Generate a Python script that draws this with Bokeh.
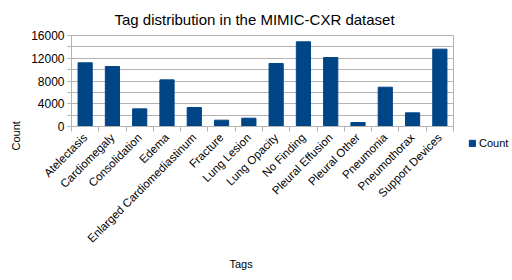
from bokeh.plotting import figure
from bokeh.models import (Range1d, FixedTicker, SingleIntervalTicker, Legend, LegendItem,
                          Title, ColumnDataSource)
from bokeh.embed import file_html
from bokeh.resources import INLINE
import math

tags = ["Atelectasis", "Cardiomegaly", "Consolidation", "Edema",
        "Enlarged Cardiomediastinum", "Fracture", "Lung Lesion", "Lung Opacity",
        "No Finding", "Pleural Effusion", "Pleural Other", "Pneumonia",
        "Pneumothorax", "Support Devices"]
counts = [11200, 10550, 3100, 8200, 3340, 1110, 1460, 11080,
          14890, 12130, 700, 6910, 2400, 13600]
y_ticks = [0, 4000, 8000, 12000, 16000]

FONT = "Liberation Sans"
GRAY = "#b3b3b3"
BAR = "#004586"

n = len(tags)
centers = [i + 0.5 for i in range(n)]
bounds = [float(i) for i in range(n + 1)]

p = figure(frame_width=382, frame_height=91, output_backend="svg", toolbar_location=None,
           x_range=Range1d(0, n), y_range=Range1d(y_ticks[0], y_ticks[-1]),
           min_border_left=70, min_border_right=60, min_border_top=35,
           min_border_bottom=154, title=None)
p.background_fill_color = "white"
p.border_fill_color = "white"
p.outline_line_color = GRAY

src = ColumnDataSource(dict(x=centers, top=counts, tag=tags))
bars = p.vbar(x="x", top="top", width=0.52, source=src, fill_color=BAR, line_color=BAR)

# title
t = Title(text="Tag distribution in the MIMIC-CXR dataset", align="left", offset=43,
          text_font=FONT, text_font_size="15px", text_font_style="normal",
          text_color="black", standoff=15)
p.add_layout(t, "above")

# x axis
xa = p.xaxis[0]
xa.ticker = FixedTicker(ticks=centers, minor_ticks=bounds)
xa.major_label_overrides = {c: t_ for c, t_ in zip(centers, tags)}
xa.major_label_orientation = math.pi / 4
xa.major_tick_out = 0
xa.major_tick_in = 0
xa.minor_tick_out = 5
xa.minor_tick_in = 0
xa.minor_tick_line_color = GRAY
xa.axis_line_color = GRAY
xa.major_label_text_font = FONT
xa.major_label_text_font_size = "11.5px"
xa.major_label_text_color = "black"
xa.major_label_standoff = 4

# y axis
ya = p.yaxis[0]
ya.ticker = SingleIntervalTicker(interval=4000, num_minor_ticks=2)
ya.major_tick_out = 4
ya.major_tick_in = 0
ya.minor_tick_out = 4
ya.minor_tick_in = 0
ya.major_tick_line_color = GRAY
ya.minor_tick_line_color = GRAY
ya.axis_line_color = GRAY
ya.major_label_text_font = FONT
ya.major_label_text_font_size = "12px"
ya.major_label_text_color = "black"
ya.major_label_standoff = 3

p.xgrid.grid_line_color = None
p.ygrid.grid_line_color = GRAY
p.ygrid.minor_grid_line_color = GRAY

# axis titles
p.add_layout(Title(text="Count", align="left", offset=-24, text_font=FONT,
                   text_font_size="11px", text_font_style="normal",
                   text_color="black", standoff=14), "left")
p.add_layout(Title(text="Tags", align="left", offset=158, text_font=FONT,
                   text_font_size="11px", text_font_style="normal",
                   text_color="black", standoff=8), "below")

legend = Legend(items=[LegendItem(label="Count", renderers=[bars])],
                location=(15, -23), padding=0, margin=0, spacing=0,
                glyph_width=8, glyph_height=8, label_standoff=3,
                label_text_font=FONT, label_text_font_size="11px",
                label_text_color="black", border_line_color=None,
                background_fill_alpha=0)
p.add_layout(legend, "right")

open("out.html", "w").write(file_html(p, INLINE))
